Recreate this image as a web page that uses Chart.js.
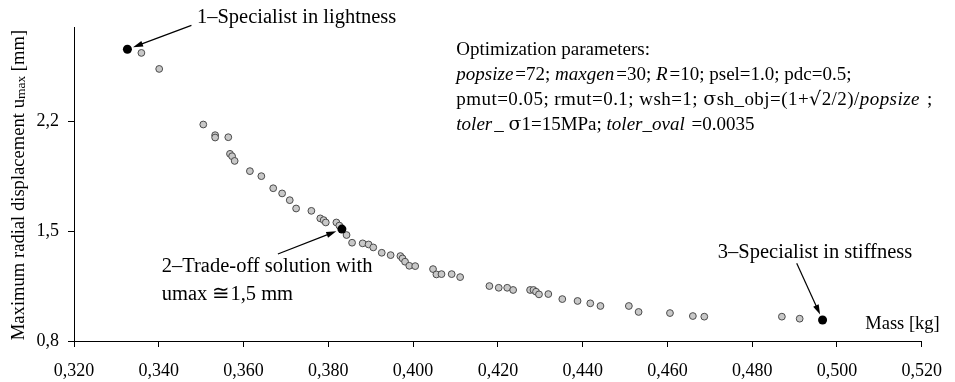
<!DOCTYPE html>
<html lang="en"><head>
<meta charset="utf-8">
<title>Pareto front - mass vs radial displacement</title>
<style>
  * { margin: 0; padding: 0; box-sizing: border-box; }
  body { background: #ffffff; width: 955px; height: 382px; overflow: hidden; }
  #wrap { position: relative; width: 955px; height: 382px; }
</style>
</head>
<body>
<div id="wrap"><canvas id="chart" width="955" height="382"></canvas></div>
<script src="https://cdn.jsdelivr.net/npm/chart.js@4.4.1/dist/chart.umd.min.js"></script>
<script>
// Pareto solutions (gray points)
const massValues = [
  0.3359, 0.3401, 0.3505, 0.3533, 0.3533, 0.3564, 0.3568, 0.3573, 0.3579, 0.3615,
  0.3642, 0.3670, 0.3691, 0.3709, 0.3724, 0.3760, 0.3781, 0.3789, 0.3794, 0.3819,
  0.3826, 0.3843, 0.3856, 0.3881, 0.3895, 0.3906, 0.3926, 0.3947, 0.3970, 0.3975,
  0.3981, 0.3991, 0.4005, 0.4047, 0.4055, 0.4067, 0.4091, 0.4111, 0.4180, 0.4202,
  0.4222, 0.4236, 0.4276, 0.4284, 0.4290, 0.4297, 0.4319, 0.4352, 0.4388, 0.4418,
  0.4442, 0.4509, 0.4532, 0.4606, 0.4660, 0.4687, 0.4870, 0.4912
];
const dispValues = [
  2.635, 2.533, 2.179, 2.111, 2.096, 2.098, 1.992, 1.977, 1.947, 1.882,
  1.850, 1.773, 1.740, 1.697, 1.644, 1.629, 1.581, 1.570, 1.555, 1.555,
  1.535, 1.475, 1.426, 1.422, 1.415, 1.396, 1.362, 1.347, 1.341, 1.326,
  1.305, 1.279, 1.277, 1.258, 1.224, 1.226, 1.226, 1.207, 1.150, 1.139,
  1.139, 1.125, 1.125, 1.125, 1.114, 1.097, 1.099, 1.067, 1.055, 1.040,
  1.023, 1.023, 0.985, 0.978, 0.959, 0.955, 0.955, 0.942
];
// highlighted solutions (black points)
const specialMass = [0.3326, 0.3832, 0.4966];
const specialDisp = [2.658, 1.513, 0.934];
const specialLabels = [
  ["1\u2013Specialist in lightness"],
  ["2\u2013Trade-off solution with", "umax \u22451,5 mm"],
  ["3\u2013Specialist in stiffness"]
];
// text anchor and arrow tail for each label, in data units
const labelAnchor = [[0.3490, 2.862], [0.3407, 1.271], [0.4719, 1.366]];
const arrowTail = [[0.3477, 2.810], [0.3681, 1.354], [0.4905, 1.296]];

const xTicks = [0.32, 0.34, 0.36, 0.38, 0.40, 0.42, 0.44, 0.46, 0.48, 0.50, 0.52];
const yTicks = [0.8, 1.5, 2.2];

// [text, italic, font family override]
const paramLines = [
  [["Optimization parameters:", false]],
  [["popsize", true], ["=72; ", false], ["maxgen", true], ["=30; ", false], ["R", true], ["=10; psel=1.0; pdc=0.5;", false]],
  [["pmut=0.05; rmut=0.1; wsh=1; ", false], ["\u03c3", false, "DejaVu Serif"], ["sh_obj=(1+", false], ["\u221a", false, "DejaVu Serif"], ["2/2)/", false], ["popsize", true], [" ;", false]],
  [["toler", true], ["_ ", false], ["\u03c3", false, "DejaVu Serif"], ["1=15MPa; ", false], ["toler_oval", true], [" =0.0035", false]]
];
const paramSpacing = [0, 0, 0.45, 0];

const SERIF = "'Liberation Serif', 'Times New Roman', serif";

const pts = massValues.map((m, i) => ({ x: m, y: dispValues[i] }));
const specialPts = specialMass.map((m, i) => ({ x: m, y: specialDisp[i] }));

function arrow(ctx, x1, y1, x2, y2) {
  const a = Math.atan2(y2 - y1, x2 - x1);
  const len = 10, hw = 3;
  ctx.beginPath();
  ctx.moveTo(x1, y1);
  ctx.lineTo(x2 - Math.cos(a) * len * 0.8, y2 - Math.sin(a) * len * 0.8);
  ctx.stroke();
  ctx.beginPath();
  ctx.moveTo(x2, y2);
  ctx.lineTo(x2 - Math.cos(a) * len - Math.sin(a) * hw, y2 - Math.sin(a) * len + Math.cos(a) * hw);
  ctx.lineTo(x2 - Math.cos(a) * len + Math.sin(a) * hw, y2 - Math.sin(a) * len - Math.cos(a) * hw);
  ctx.closePath();
  ctx.fill();
}

const annotations = {
  id: "annotations",
  afterDraw(chart) {
    const ctx = chart.ctx;
    const xs = chart.scales.x, ys = chart.scales.y;
    ctx.save();
    ctx.fillStyle = "#000";
    ctx.strokeStyle = "#000";
    ctx.lineWidth = 1.2;
    ctx.textBaseline = "middle";

    // labels + arrows for highlighted points
    ctx.font = "20.5px " + SERIF;
    specialLabels.forEach((lines, i) => {
      const lx = xs.getPixelForValue(labelAnchor[i][0]);
      const ly = ys.getPixelForValue(labelAnchor[i][1]);
      lines.forEach((t, j) => ctx.fillText(t, lx, ly + j * 28));
      const tx = xs.getPixelForValue(arrowTail[i][0]);
      const ty = ys.getPixelForValue(arrowTail[i][1]);
      const px = xs.getPixelForValue(specialMass[i]);
      const py = ys.getPixelForValue(specialDisp[i]);
      const d = Math.hypot(px - tx, py - ty);
      const r = 6;
      arrow(ctx, tx, ty, px - (px - tx) / d * r, py - (py - ty) / d * r);
    });

    // optimization parameters block
    const y0 = chart.chartArea.top + 23;
    const x0 = xs.getPixelForValue(0.4102);
    paramLines.forEach((segs, j) => {
      let x = x0;
      ctx.letterSpacing = paramSpacing[j] + "px";
      segs.forEach(([t, it, fam]) => {
        ctx.font = (it ? "italic " : "") + "19px " + (fam ? "'" + fam + "'" : SERIF);
        ctx.fillText(t, x, y0 + j * 25);
        x += ctx.measureText(t).width + (it ? 2 : 0);
      });
    });
    ctx.letterSpacing = "0px";

    // x axis title
    ctx.font = "18.5px " + SERIF;
    ctx.textAlign = "right";
    ctx.fillText("Mass [kg]", chart.chartArea.right + 18, chart.chartArea.bottom - 17);

    // y axis title with subscript
    ctx.translate(19, (chart.chartArea.top + chart.chartArea.bottom) / 2 + 1);
    ctx.rotate(-Math.PI / 2);
    const parts = [["Maximum radial displacement u", 18.6, 0], ["max", 13.5, 2], [" [mm]", 18.6, 0]];
    let total = 0;
    parts.forEach(([t, s]) => { ctx.font = s + "px " + SERIF; total += ctx.measureText(t).width; });
    ctx.textAlign = "left";
    let x = -total / 2;
    parts.forEach(([t, s, dy]) => {
      ctx.font = s + "px " + SERIF;
      ctx.fillText(t, x, dy);
      x += ctx.measureText(t).width;
    });
    ctx.restore();
  }
};

new Chart(document.getElementById("chart"), {
  type: "scatter",
  plugins: [annotations],
  data: {
    datasets: [
      {
        data: specialPts,
        backgroundColor: "#000",
        borderColor: "#000",
        pointRadius: 4.5,
        borderWidth: 0
      },
      {
        data: pts,
        backgroundColor: "#c8c8c8",
        borderColor: "#4a4a4a",
        pointRadius: 3.4,
        borderWidth: 1
      }
    ]
  },
  options: {
    responsive: false,
    animation: false,
    layout: { padding: { top: 27, right: 21, left: 0, bottom: 0 } },
    plugins: { legend: { display: false }, tooltip: { enabled: false } },
    scales: {
      x: {
        type: "linear",
        min: 0.32,
        max: 0.52,
        afterBuildTicks: s => { s.ticks = xTicks.map(v => ({ value: v })); },
        afterFit: s => { s.height = 41; },
        grid: { drawOnChartArea: false, drawTicks: true, tickLength: 6, color: "#000" },
        border: { color: "#000", width: 1 },
        ticks: {
          color: "#000",
          padding: 13,
          maxRotation: 0,
          font: { family: SERIF, size: 18 },
          callback: v => Number(v).toFixed(3).replace(".", ",")
        }
      },
      y: {
        type: "linear",
        min: 0.8,
        max: 2.8,
        afterBuildTicks: s => { s.ticks = yTicks.map(v => ({ value: v })); },
        afterFit: s => { s.width = 74; },
        grid: { drawOnChartArea: false, drawTicks: true, tickLength: 6, color: "#000" },
        border: { color: "#000", width: 1 },
        ticks: {
          color: "#000",
          padding: 9,
          font: { family: SERIF, size: 18 },
          callback: v => Number(v).toFixed(1).replace(".", ",")
        }
      }
    }
  }
});
</script>
</body></html>
